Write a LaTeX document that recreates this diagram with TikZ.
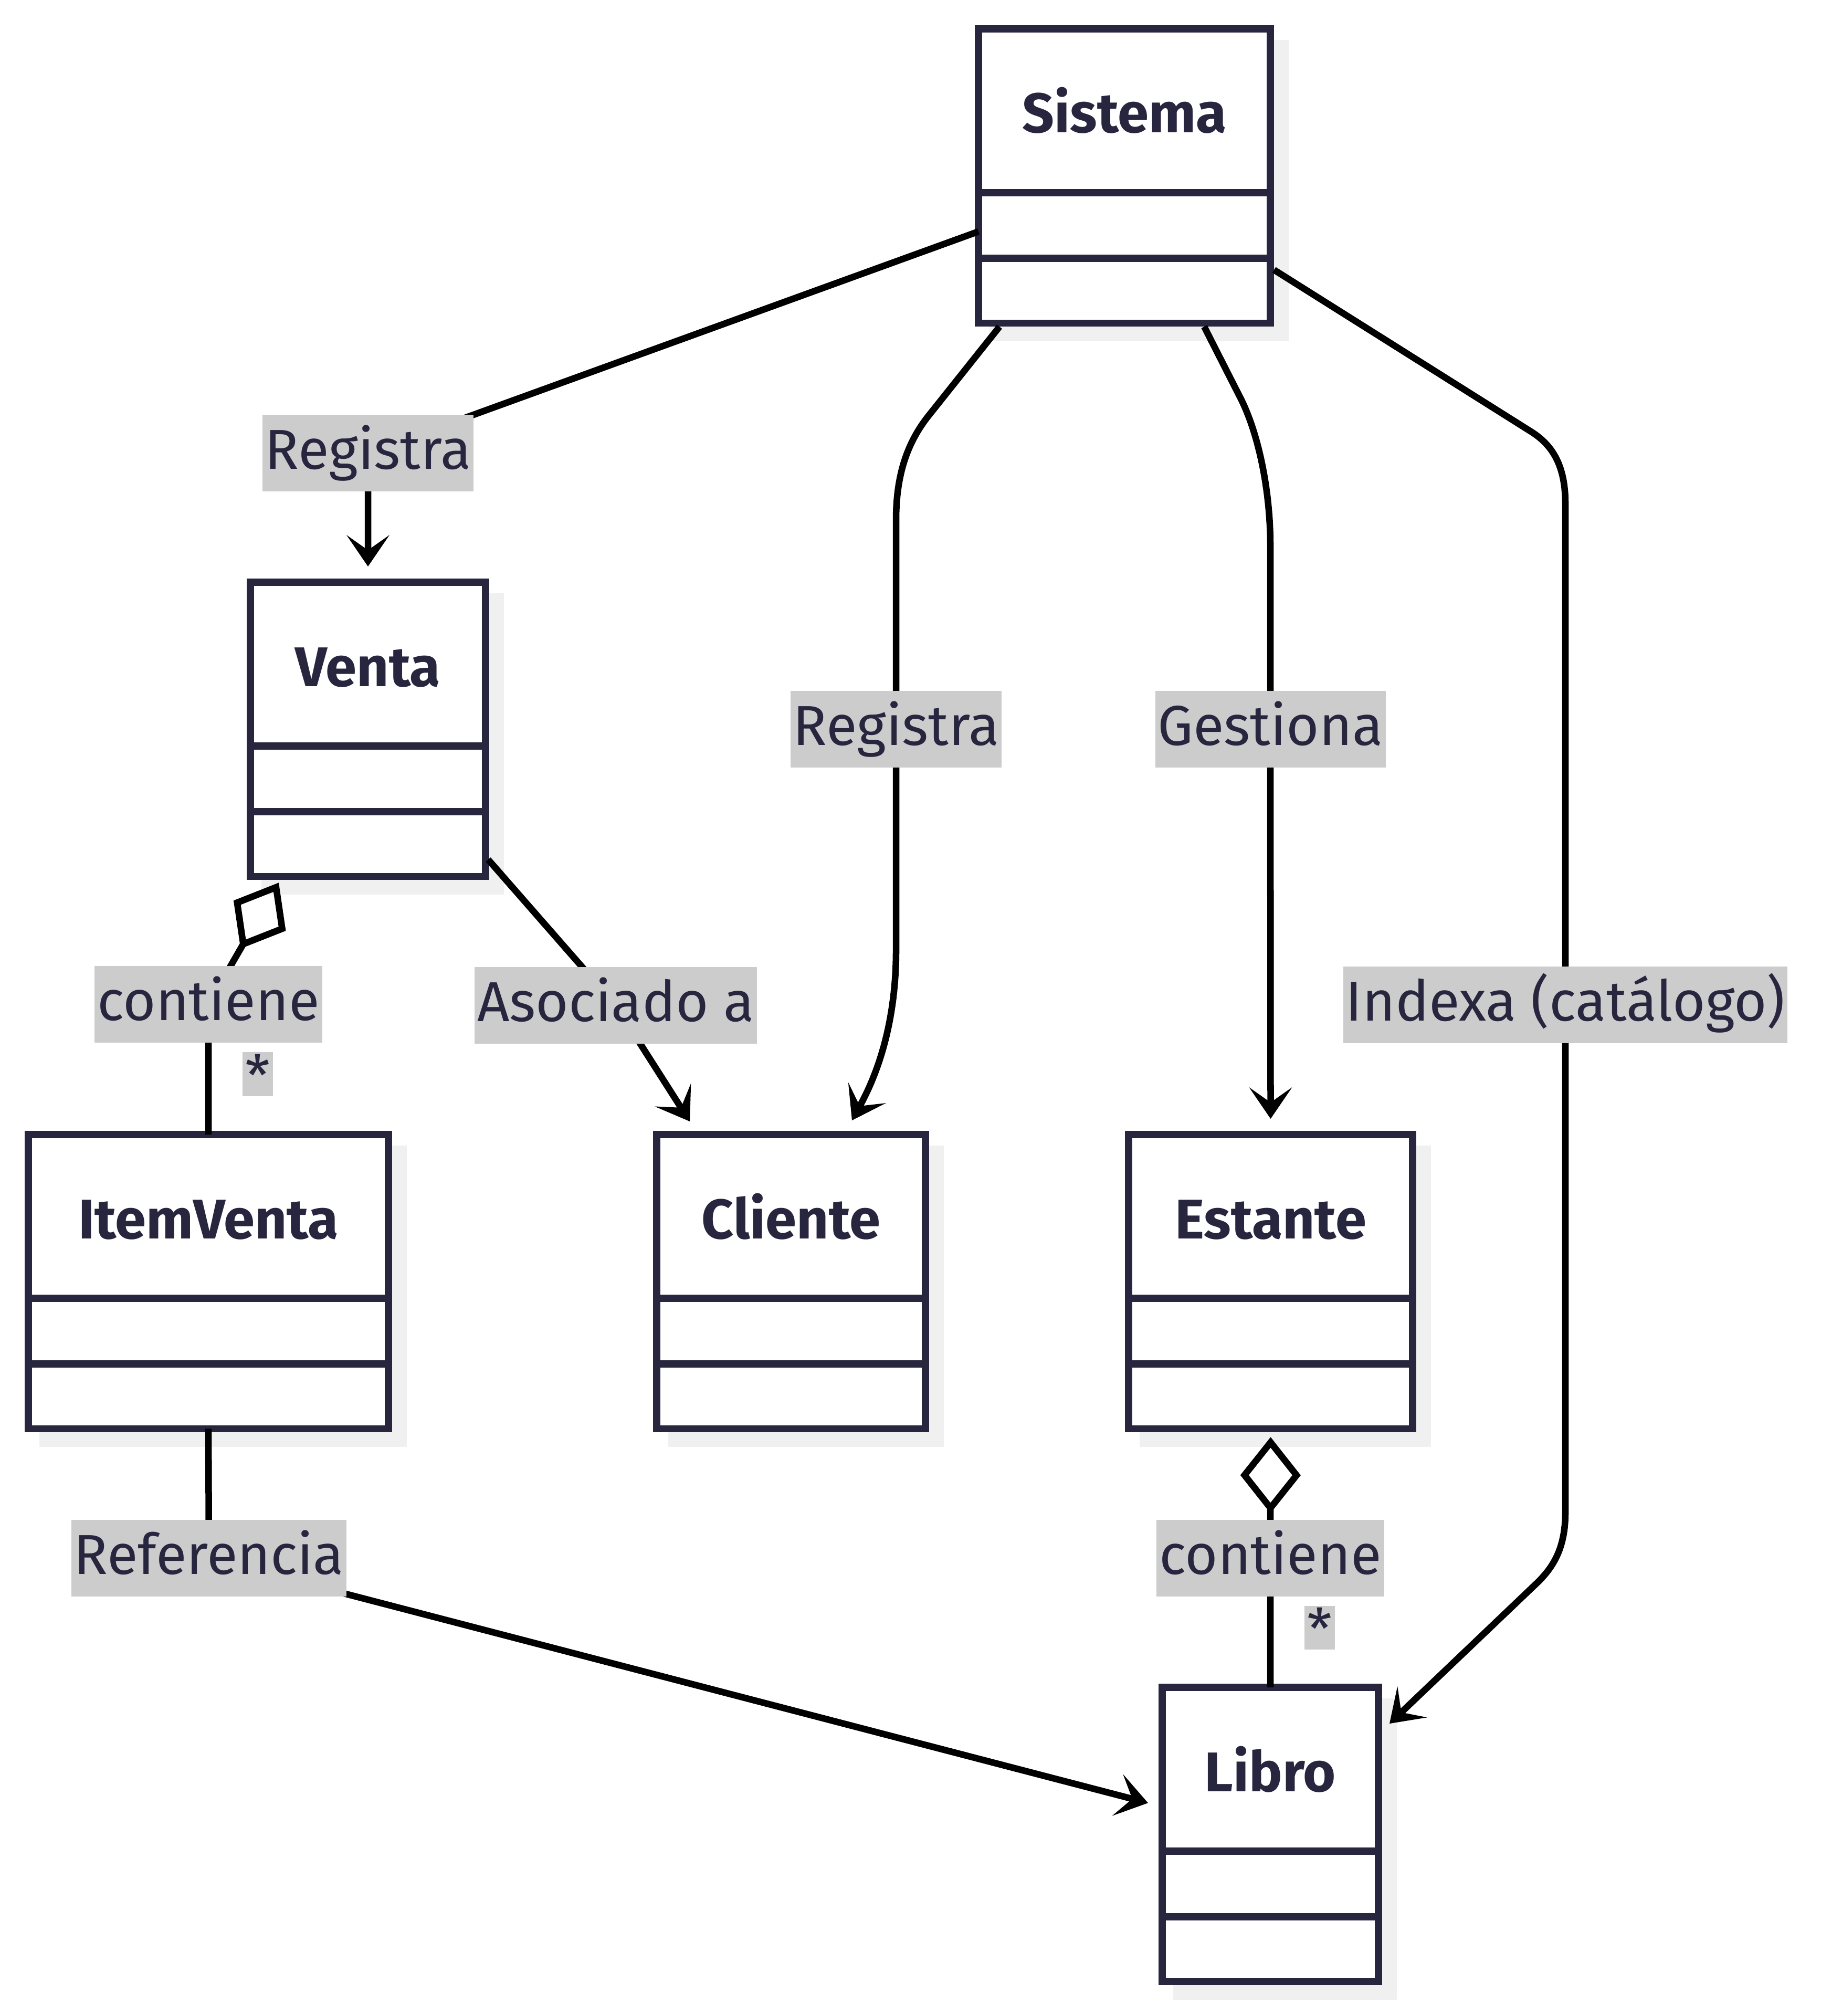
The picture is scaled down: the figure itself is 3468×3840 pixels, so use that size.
\documentclass[tikz,border=0pt]{standalone}
\usepackage{fontspec}
\setmainfont{Fira Sans}
\usetikzlibrary{arrows.meta,calc,shadows}
\definecolor{UmlInk}{HTML}{28263F}
\definecolor{UmlShade}{HTML}{F0F0F0}
\definecolor{UmlTag}{HTML}{CCCCCC}

\begin{document}
\begin{tikzpicture}[
  x=0.01cm,y=-0.01cm,
  umlbox/.style={draw=UmlInk,fill=white,line width=0.135cm,outer sep=0pt,
    inner sep=0pt,minimum height=5.6cm,anchor=north west,
    drop shadow={shadow xshift=0.28cm,shadow yshift=-0.28cm,opacity=1,
      fill=UmlShade,draw=UmlShade}},
  umlrule/.style={draw=UmlInk,line width=0.135cm},
  umltitle/.style={anchor=base,text=UmlInk,
    font=\bfseries\fontsize{30.3}{36}\selectfont},
  edgetag/.style={fill=UmlTag,text=UmlInk,inner xsep=0.05cm,inner ysep=0pt,
    minimum height=1.45cm,text height=0.76cm,text depth=0.15cm,
    font=\fontsize{30.5}{36}\selectfont},
  multtag/.style={fill=UmlTag,text=UmlInk,inner xsep=0.05cm,inner ysep=0pt,
    text height=0.83cm,text depth=0pt,font=\fontsize{30.5}{36}\selectfont},
  link/.style={draw=black,line width=0.125cm},
  navto/.style={link,-{Stealth[length=0.6cm,width=0.82cm,inset=0.29cm,line width=0pt]}},
  agg/.style={link,{Diamond[open,length=1.45cm,width=1.15cm]}-}
]
\useasboundingbox (0,0) rectangle (3468,3840);

% classes: name/left/top/width/title
\foreach \nm/\x/\y/\w/\ttl in {sistema/1864/55/556/Sistema,
    venta/477/1109/448/Venta, itemventa/54/2161/686/ItemVenta,
    cliente/1251/2161/512/Cliente, estante/2150/2161/541/Estante,
    libro/2214/3214/412/Libro}{
  \node[umlbox,minimum width=\w*0.01cm] (\nm) at (\x,\y) {};
  \draw[umlrule] ($(\nm.north west)+(0,312)$) -- ($(\nm.north east)+(0,312)$);
  \draw[umlrule] ($(\nm.north west)+(0,437)$) -- ($(\nm.north east)+(0,437)$);
  \node[umltitle] (\nm-title) at ($(\nm.north)+(0,198)$) {\ttl};
}

% where the edge labels sit
\coordinate (regV) at (701,863);
\coordinate (regC) at (1707,1389);
\coordinate (gest) at (2420,1389);
\coordinate (idx) at (2982,1914);
\coordinate (contV) at (397,1913);
\coordinate (asoc) at (1173,1915);
\coordinate (refer) at (398,2968);
\coordinate (contE) at (2420,2968);

\draw[navto] ($(sistema.north west)+(0,386)$) -- (regV) -- ($(venta.north)+(0,-30)$);
\draw[navto] ($(sistema.south west)+(40,7)$) -- (1768,793)
  .. controls (1731,840) and (1707,900) .. (1707,990) -- (regC) -- (1707,1810)
  .. controls (1707,1930) and (1680,2030) .. ($(cliente.north)+(116,-27)$);
\draw[navto] ($(sistema.south west)+(430,7)$) -- (2364,760)
  .. controls (2396,824) and (2420,930) .. (2420,1040) -- (gest)
  -- ($(estante.north)+(0,-30)$);
\draw[navto] ($(sistema.north east)+(7,459)$) -- (2918,823)
  .. controls (2960,850) and (2982,890) .. (2982,960) -- (idx) -- (2982,2880)
  .. controls (2982,2945) and (2962,2983) .. (2926,3017)
  -- ($(libro.north east)+(21,69)$);
\draw[agg] ($(venta.south west)+(54,12)$) -- (contV) -- (itemventa.north);
\draw[navto] ($(venta.south east)+(5,-32)$) -- (asoc) -- ($(cliente.north west)+(63,-25)$);
\draw[navto] (itemventa.south) -- (refer) -- ($(libro.west)+(-27,-60)$);
\draw[agg] ($(estante.south)+(0,16)$) -- (contE) -- (libro.north);

\node[edgetag] (regV-tag) at (regV) {Registra};
\node[edgetag] (regC-tag) at (regC) {Registra};
\node[edgetag] (gest-tag) at (gest) {Gestiona};
\node[edgetag] (idx-tag) at (idx) {Indexa (catálogo)};
\node[edgetag] (contV-tag) at (contV) {contiene};
\node[edgetag] (asoc-tag) at (asoc) {Asociado a};
\node[edgetag] (refer-tag) at (refer) {Referencia};
\node[edgetag] (contE-tag) at (contE) {contiene};
\node[multtag] (itemMult) at ($(contV)+(94,133)$) {*};
\node[multtag] (libroMult) at ($(contE)+(94,132)$) {*};
\end{tikzpicture}
\end{document}
